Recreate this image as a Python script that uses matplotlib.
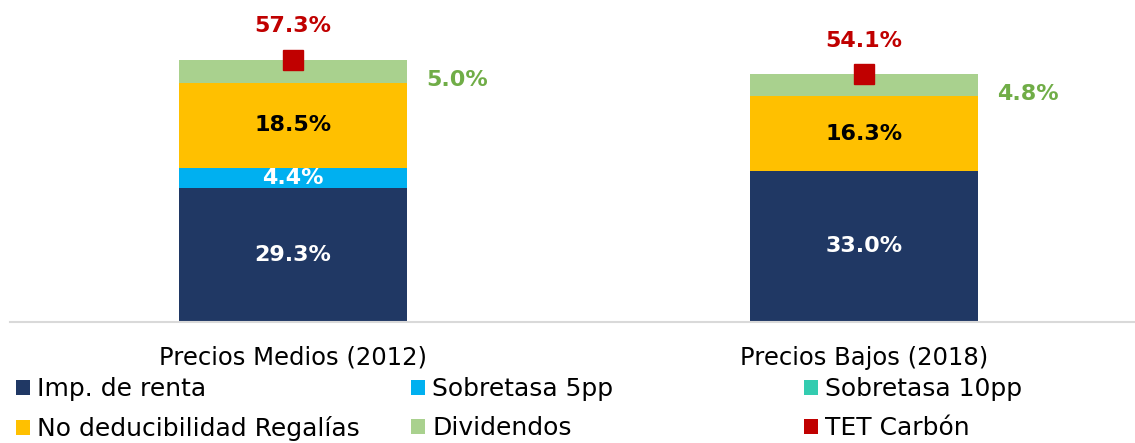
import numpy as np
import matplotlib.pyplot as plt
from matplotlib.patches import Patch

plt.rcParams['font.family'] = ['DejaVu Sans']

# data
categories = ['Precios Medios (2012)', 'Precios Bajos (2018)']
imp_renta = [29.3, 33.0]
sobretasa_5 = [4.4, 0.0]
sobretasa_10 = [0.0, 0.0]
no_deduc = [18.5, 16.3]
dividendos = [5.0, 4.8]
tet_carbon = [57.3, 54.1]

series = [
    ('Imp. de renta', imp_renta, '#203864'),
    ('Sobretasa 5pp', sobretasa_5, '#00B0F0'),
    ('Sobretasa 10pp', sobretasa_10, '#33CCB0'),
    ('No deducibilidad Regalías', no_deduc, '#FFC000'),
    ('Dividendos', dividendos, '#A9D18E'),
]
red = '#C00000'
green_lbl = '#70AD47'

fig = plt.figure(figsize=(11.35, 4.43), dpi=100)
ax = fig.add_axes([10 / 1135, (443 - 322) / 443, 1125 / 1135, 322 / 443])

x = np.arange(len(categories))
width = 0.40
bottom = np.zeros(len(categories))
for name, vals, color in series:
    vals = np.array(vals)
    ax.bar(x, vals, width, bottom=bottom, color=color, label=name)
    for i, v in enumerate(vals):
        if v <= 0:
            continue
        mid = bottom[i] + v / 2
        if name == 'Dividendos':
            ax.annotate(f'{v:.1f}%', (x[i] + width / 2, mid), xytext=(36, -6),
                        textcoords='offset points', ha='center', va='center',
                        fontsize=16, fontweight='bold', color=green_lbl)
        else:
            tc = 'black' if name == 'No deducibilidad Regalías' else 'white'
            ax.text(x[i], mid, f'{v:.1f}%', ha='center', va='center',
                    fontsize=16, fontweight='bold', color=tc)
    bottom += vals

ax.plot(x, tet_carbon, linestyle='none', marker='s', markersize=15,
        color=red, label='TET Carbón')
for i, v in enumerate(tet_carbon):
    ax.annotate(f'{v:.1f}%', (x[i], v), xytext=(0, 24), textcoords='offset points',
                ha='center', va='center', fontsize=16, fontweight='bold', color=red)

ax.set_xlim(-0.496, 1.475)
ax.set_ylim(0, 70.3)
ax.set_yticks([])
ax.set_xticks(x)
ax.set_xticklabels(categories, fontsize=17.5)
ax.tick_params(axis='x', length=0, pad=17)
for s in ['top', 'right', 'left']:
    ax.spines[s].set_visible(False)
ax.spines['bottom'].set_color('#D9D9D9')
ax.spines['bottom'].set_linewidth(1.5)

# legend: three columns of two entries
sq = dict(handlelength=0.55, handleheight=0.55, handletextpad=0.3,
          frameon=False, fontsize=18, labelspacing=0.6, borderpad=0, borderaxespad=0)
cols = [
    [('Imp. de renta', '#203864'), ('No deducibilidad Regalías', '#FFC000')],
    [('Sobretasa 5pp', '#00B0F0'), ('Dividendos', '#A9D18E')],
    [('Sobretasa 10pp', '#33CCB0'), ('TET Carbón', red)],
]
xs = [16 / 1135, 411 / 1135, 804 / 1135]
for xc, col in zip(xs, cols):
    handles = [Patch(facecolor=c, label=l) for l, c in col]
    fig.legend(handles=handles, loc='upper left', bbox_to_anchor=(xc, 1 - 377 / 443), **sq)

fig.savefig('out.png', dpi=100)
